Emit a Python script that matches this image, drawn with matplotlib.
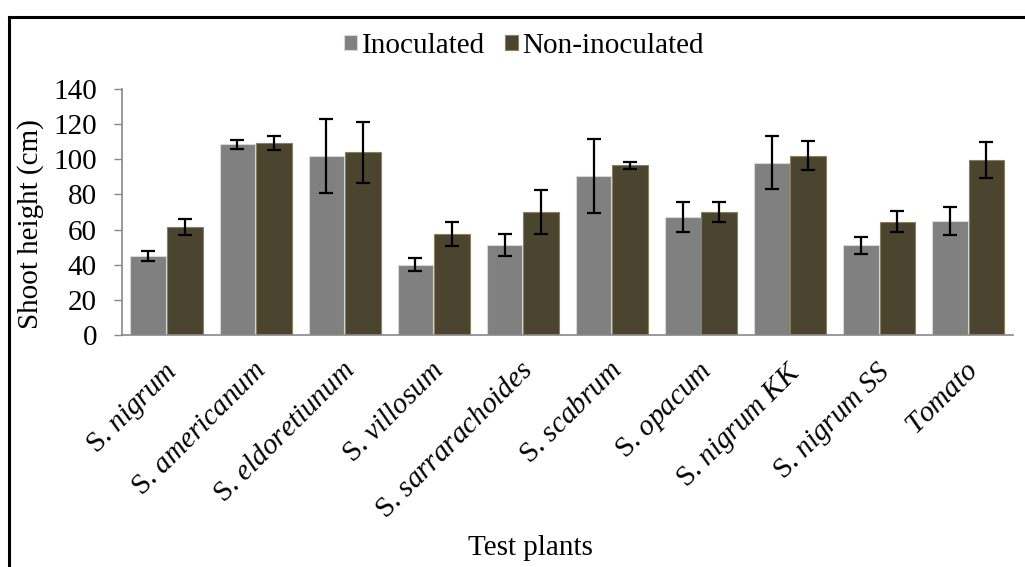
from matplotlib import pyplot as plt
from matplotlib.lines import Line2D
import matplotlib.transforms as mtransforms
import numpy as np

plt.rcParams['font.family'] = 'serif'
plt.rcParams['font.serif'] = ['Liberation Serif', 'DejaVu Serif']
plt.rcParams['mathtext.fontset'] = 'custom'
plt.rcParams['mathtext.rm'] = 'Liberation Serif'
plt.rcParams['mathtext.it'] = 'Liberation Serif:italic'

plants = [r"S. $\it{nigrum}$", r"S. $\it{americanum}$", r"S. $\it{eldoretiunum}$",
          r"S. $\it{villosum}$", r"S. $\it{sarrarachoides}$", r"S. $\it{scabrum}$",
          r"S. $\it{opacum}$", r"S. $\it{nigrum\ KK}$", r"S. $\it{nigrum\ SS}$",
          r"$\it{Tomato}$"]
inoculated = [45, 108.5, 102, 40, 51.5, 90.5, 67, 98, 51, 65]
inoculated_err = [3, 2.5, 21, 3.8, 6.3, 21, 8.5, 15, 4.8, 8]
non_inoculated = [61.5, 109.5, 104, 57.5, 70, 96.5, 70, 102, 64.5, 99.5]
non_inoculated_err = [4.5, 4, 17.5, 6.6, 12.4, 2, 5.6, 8.3, 6, 10.3]

gray = "#808080"
olive = "#4b452f"
fs = 21

fig = plt.figure(figsize=(10.25, 5.67), dpi=100)
ax = fig.add_axes([0.119, 0.409, 0.869, 0.434])

x = np.arange(len(plants))
w = 0.4
off = 0.205
err_kw = dict(ecolor="black", elinewidth=1.6, capsize=5, capthick=1.6)
ax.bar(x - off, inoculated, w, color=gray, edgecolor="#d8d8d8", linewidth=0.8,
       yerr=inoculated_err, error_kw=err_kw, label="Inoculated")
ax.bar(x + off, non_inoculated, w, color=olive, edgecolor="#8a8060", linewidth=0.8,
       yerr=non_inoculated_err, error_kw=err_kw, label="Non-inoculated")

ax.set_xlim(-0.5, len(plants) - 0.5)
ax.set_ylim(0, 140)
ax.set_yticks(range(0, 141, 20))
ax.tick_params(axis="y", labelsize=fs, length=6, color="#888888", width=1, pad=12)
ax.tick_params(axis="x", length=0, pad=8)
ax.set_xticks(x)
ax.set_xticklabels(plants, rotation=45, ha="right", rotation_mode="anchor", fontsize=fs)
shift = mtransforms.ScaledTranslation(-0.03, -0.11, fig.dpi_scale_trans)
for lbl in ax.get_xticklabels():
    lbl.set_transform(lbl.get_transform() + shift)

for s in ["top", "right"]:
    ax.spines[s].set_visible(False)
for s in ["left", "bottom"]:
    ax.spines[s].set_color("#888888")
    ax.spines[s].set_linewidth(1.2)

fig.text(31 / 1025, 1 - 224 / 567, "Shoot height (cm)", fontsize=fs, rotation=90,
         ha="center", va="center")
fig.text(530 / 1025, 1 - 548 / 567, "Test plants", fontsize=fs, ha="center", va="center")

ax.legend(loc="center", bbox_to_anchor=(524 / 1025, 1 - 46 / 567), bbox_transform=fig.transFigure,
          ncol=2, frameon=False, fontsize=fs, handlelength=0.45, handleheight=0.45,
          handletextpad=0.15, columnspacing=0.7)

# frame lines around the figure
fig.add_artist(Line2D([9 / 1025, 1], [1 - 16.5 / 567, 1 - 16.5 / 567], color="black", lw=2.2,
                      transform=fig.transFigure))
fig.add_artist(Line2D([9 / 1025, 9 / 1025], [0, 1 - 16.5 / 567], color="black", lw=2.2,
                      transform=fig.transFigure))

fig.savefig("out.png", dpi=100)
